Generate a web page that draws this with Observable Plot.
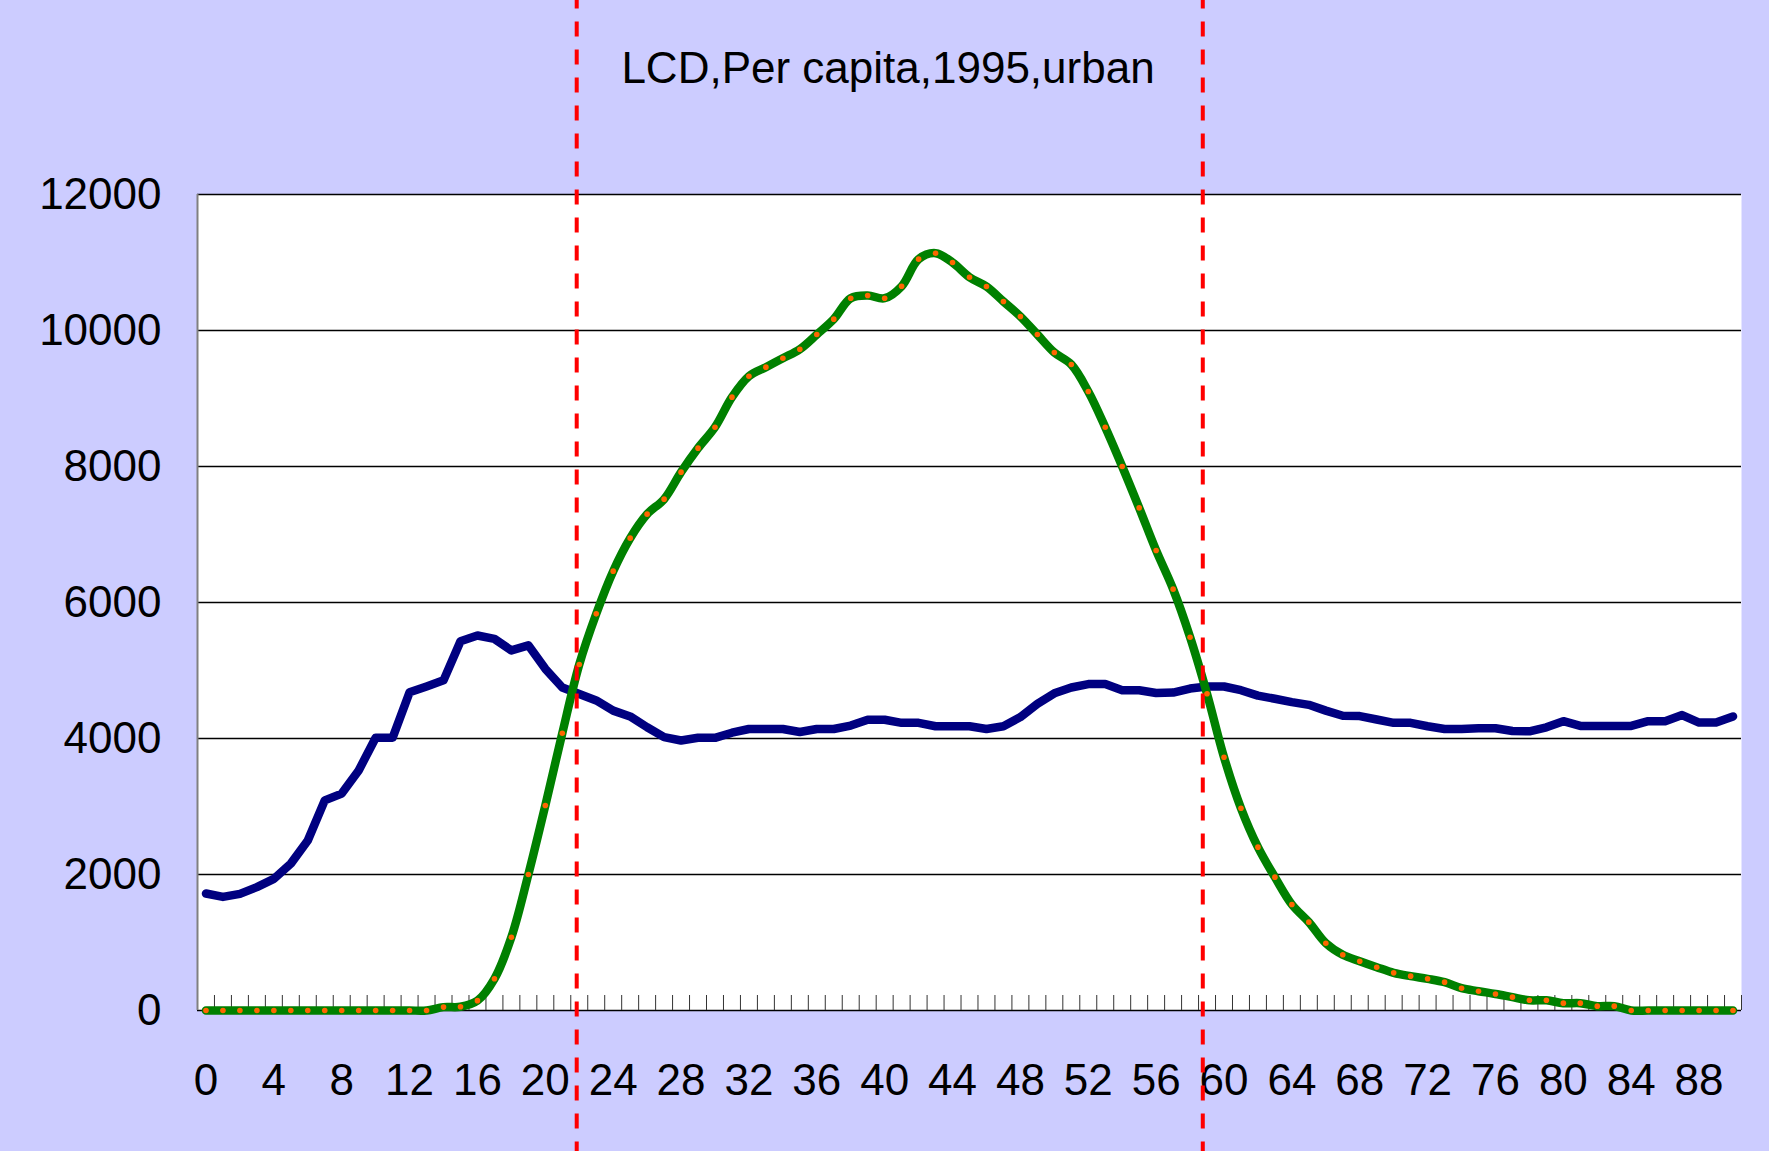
<!DOCTYPE html>
<html>
<head>
<meta charset="utf-8">
<script src="https://cdn.jsdelivr.net/npm/d3@7"></script>
<script src="https://cdn.jsdelivr.net/npm/@observablehq/plot@0.6"></script>
<style>
  html, body { margin: 0; padding: 0; background: #CCCCFF; }
  #chart svg { display: block; }
</style>
</head>
<body>
<div id="chart"></div>
<script>
// Ages (categories)
const ages = [0,1,2,3,4,5,6,7,8,9,10,11,12,13,14,15,16,17,18,19,20,21,22,23,24,25,26,27,28,29,
  30,31,32,33,34,35,36,37,38,39,40,41,42,43,44,45,46,47,48,49,50,51,52,53,54,55,56,57,58,59,
  60,61,62,63,64,65,66,67,68,69,70,71,72,73,74,75,76,77,78,79,80,81,82,83,84,85,86,87,88,89,90];

// Per capita consumption (blue)
const consumption = [1720,1670,1715,1815,1935,2160,2500,3090,3190,3530,4010,4010,4680,4765,4855,
  5430,5515,5465,5295,5370,5025,4750,4655,4560,4410,4325,4165,4020,3970,4010,
  4010,4085,4140,4140,4140,4095,4140,4140,4190,4275,4275,4230,4230,4180,4180,
  4180,4140,4180,4315,4510,4665,4750,4800,4800,4710,4710,4670,4675,4735,4765,
  4765,4710,4630,4585,4535,4495,4410,4335,4330,4280,4230,4230,4180,4140,4140,
  4150,4150,4110,4105,4165,4255,4185,4185,4185,4185,4255,4255,4345,4235,4235,4325];

// Per capita labor income (green, with orange dotted overlay)
const laborIncome = [0,0,0,0,0,0,0,0,0,0,0,0,0,0,50,
  55,145,466,1078,2000,3015,4078,5088,5833,6461,6946,7299,7520,7917,8270,
  8578,9020,9328,9461,9593,9725,9941,10167,10475,10515,10475,10650,11049,11137,11000,
  10784,10647,10426,10206,9941,9676,9500,9103,8578,8000,7392,6765,6196,5490,4657,
  3725,2975,2402,1961,1559,1299,990,819,725,637,554,505,466,417,328,
  284,243,196,150,150,108,108,64,64,0,0,0,0,0,0,0];

// Crossing ages marked by red dashed lines
const crossings = [21.85, 58.75];

// Axis ticks
const xTickLabels = [0,4,8,12,16,20,24,28,32,36,40,44,48,52,56,60,64,68,72,76,80,84,88];
const xCategoryBoundaries = [0.5,1.5,2.5,3.5,4.5,5.5,6.5,7.5,8.5,9.5,10.5,11.5,12.5,13.5,14.5,
  15.5,16.5,17.5,18.5,19.5,20.5,21.5,22.5,23.5,24.5,25.5,26.5,27.5,28.5,29.5,
  30.5,31.5,32.5,33.5,34.5,35.5,36.5,37.5,38.5,39.5,40.5,41.5,42.5,43.5,44.5,
  45.5,46.5,47.5,48.5,49.5,50.5,51.5,52.5,53.5,54.5,55.5,56.5,57.5,58.5,59.5,
  60.5,61.5,62.5,63.5,64.5,65.5,66.5,67.5,68.5,69.5,70.5,71.5,72.5,73.5,74.5,
  75.5,76.5,77.5,78.5,79.5,80.5,81.5,82.5,83.5,84.5,85.5,86.5,87.5,88.5,89.5,90.5];
const yTicks = [0,2000,4000,6000,8000,10000,12000];
const gridValues = [2000,4000,6000,8000,10000,12000];
const title = "LCD,Per capita,1995,urban";

const data = ages.map((a, i) => ({age: a, cons: consumption[i], lab: laborIncome[i]}));

const font = "'Liberation Sans', Arial, sans-serif";

const chart = Plot.plot({
  width: 1769,
  height: 1151,
  marginLeft: 197,
  marginRight: 28,
  marginTop: 194,
  marginBottom: 141,
  style: {background: "#CCCCFF", fontFamily: font, fontSize: "44px", color: "black", overflow: "visible"},
  x: {domain: [-0.5, 90.5], label: null},
  y: {domain: [0, 12000], label: null},
  marks: [
    Plot.frame({fill: "white", stroke: "none"}),
    Plot.ruleY(gridValues, {stroke: "black", strokeWidth: 1.3}),
    Plot.ruleY([0], {stroke: "black", strokeWidth: 1.6}),
    Plot.ruleX([-0.5], {stroke: "#808080", strokeWidth: 2}),
    Plot.axisX({ticks: xCategoryBoundaries, tickSize: 15, dy: -15, tickFormat: () => "", stroke: "#333", strokeWidth: 1, label: null}),
    Plot.axisX({ticks: xTickLabels, tickSize: 0, tickPadding: 53, tickFormat: d => String(d), fontSize: 44, fill: "black", label: null}),
    Plot.axisY({ticks: yTicks, tickSize: 0, tickPadding: 36, tickFormat: d => String(d), fontSize: 44, fill: "black", label: null}),
    Plot.line(data, {x: "age", y: "cons", stroke: "#000080", strokeWidth: 8.5, strokeLinejoin: "round", strokeLinecap: "round"}),
    Plot.line(data, {x: "age", y: "lab", stroke: "#008000", strokeWidth: 8.5, curve: "catmull-rom", strokeLinejoin: "round"}),
    Plot.ruleX(crossings, {stroke: "#FF0000", strokeWidth: 4, strokeDasharray: "15,13", strokeDashoffset: 6.6, insetTop: -194, insetBottom: -141}),
    Plot.dot(data, {x: "age", y: "lab", r: 2.8, fill: "#FF6600", stroke: "none"}),
    Plot.text([title], {frameAnchor: "top", lineAnchor: "middle", dx: -81.5, dy: -126, fontSize: 44, fill: "black", fontFamily: font})
  ]
});

document.getElementById("chart").appendChild(chart);
</script>
</body>
</html>
